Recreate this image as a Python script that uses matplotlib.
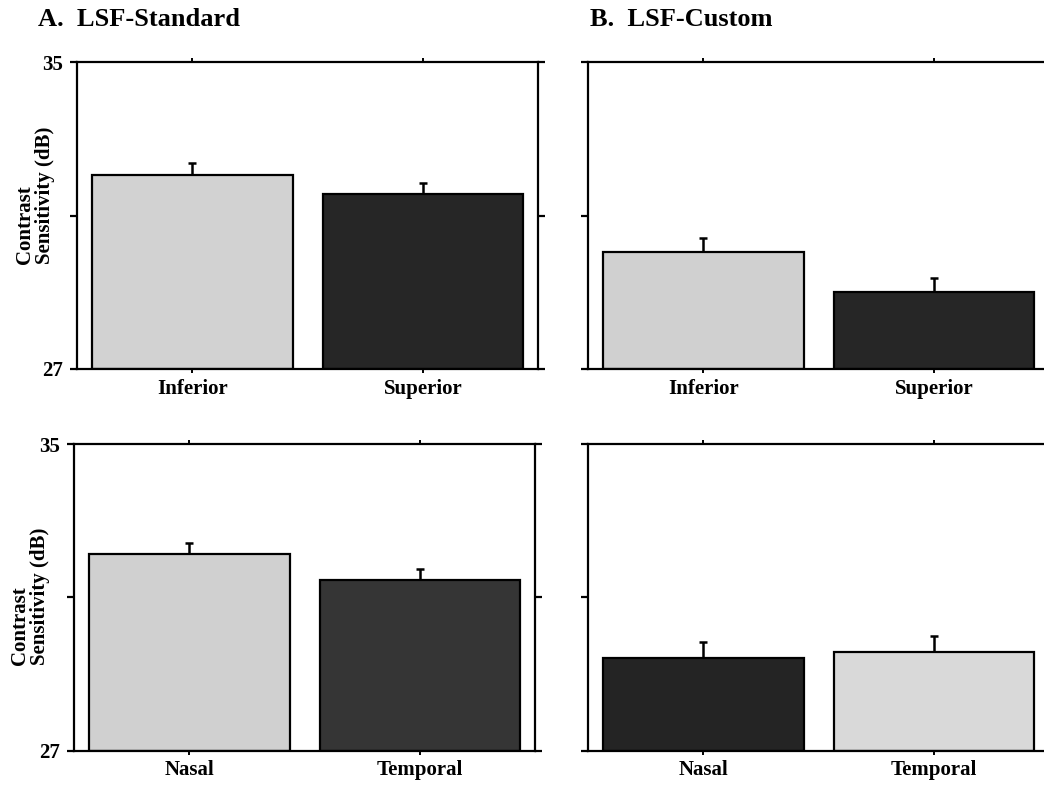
import numpy as np
import matplotlib
matplotlib.use('Agg')
import matplotlib.pyplot as plt

plt.rcParams['font.family'] = 'Liberation Serif'
plt.rcParams['font.weight'] = 'bold'

# mean contrast sensitivity (dB) and upper error (SEM)
vert_labels = ['Inferior', 'Superior']
horiz_labels = ['Nasal', 'Temporal']

std_vert = [32.06, 31.56]
std_vert_err = [0.32, 0.29]
cus_vert = [30.05, 29.00]
cus_vert_err = [0.36, 0.38]

std_horiz = [32.12, 31.46]
std_horiz_err = [0.30, 0.29]
cus_horiz = [29.41, 29.58]
cus_horiz_err = [0.43, 0.41]

W, H = 1044, 786
fig = plt.figure(figsize=(W / 100, H / 100), dpi=100)

def px_axes(x0, y0, x1, y1):
    return fig.add_axes([x0 / W, 1 - y1 / H, (x1 - x0) / W, (y1 - y0) / H])

ax_a1 = px_axes(77.3, 62.3, 538, 369)
ax_b1 = px_axes(588.3, 62.3, 1049, 369)
ax_a2 = px_axes(74.3, 444, 535, 750.7)
ax_b2 = px_axes(588.3, 444, 1049, 750.7)

panels = [
    (ax_a1, vert_labels, std_vert, std_vert_err, ['#d2d2d2', '#262626'], True),
    (ax_b1, vert_labels, cus_vert, cus_vert_err, ['#d0d0d0', '#262626'], False),
    (ax_a2, horiz_labels, std_horiz, std_horiz_err, ['#d0d0d0', '#353535'], True),
    (ax_b2, horiz_labels, cus_horiz, cus_horiz_err, ['#242424', '#d9d9d9'], False),
]

for ax, labels, vals, errs, cols, show_y in panels:
    x = np.arange(len(labels))
    ax.bar(x, np.array(vals) - 27, bottom=27, width=0.87, color=cols,
           edgecolor='black', linewidth=1.6, zorder=2)
    ax.errorbar(x, vals, yerr=[np.zeros(len(errs)), errs], fmt='none',
                ecolor='black', elinewidth=1.8, capsize=3, capthick=1.8, zorder=1)
    ax.set_xlim(-0.5, 1.5)
    ax.set_ylim(27, 35)
    ax.set_xticks(x)
    ax.set_xticklabels(labels, fontsize=15, fontweight='bold')
    ax.set_yticks([27, 31, 35])
    if show_y:
        ax.set_yticklabels(['27', '', '35'], fontsize=15, fontweight='bold')
    else:
        ax.set_yticklabels([])
    for s in ax.spines.values():
        s.set_linewidth(1.6)
    ax.tick_params(axis='x', direction='out', length=3, width=1.4,
                   top=True, bottom=True, pad=4)
    ax.tick_params(axis='y', direction='out', length=5, width=1.6,
                   left=True, right=True, pad=5)

fig.text(38 / W, 1 - 19 / H, 'A.  LSF-Standard', fontsize=19, fontweight='bold',
         ha='left', va='center')
fig.text(590 / W, 1 - 19 / H, 'B.  LSF-Custom', fontsize=19, fontweight='bold',
         ha='left', va='center')

fig.text(35 / W, 1 - 195.5 / H, 'Contrast\nSensitivity (dB)', rotation=90,
         fontsize=15, fontweight='bold', ha='center', va='center',
         multialignment='left', linespacing=1.0)
fig.text(30 / W, 1 - 596.5 / H, 'Contrast\nSensitivity (dB)', rotation=90,
         fontsize=15, fontweight='bold', ha='center', va='center',
         multialignment='left', linespacing=1.0)

fig.savefig('out.png', dpi=100)
